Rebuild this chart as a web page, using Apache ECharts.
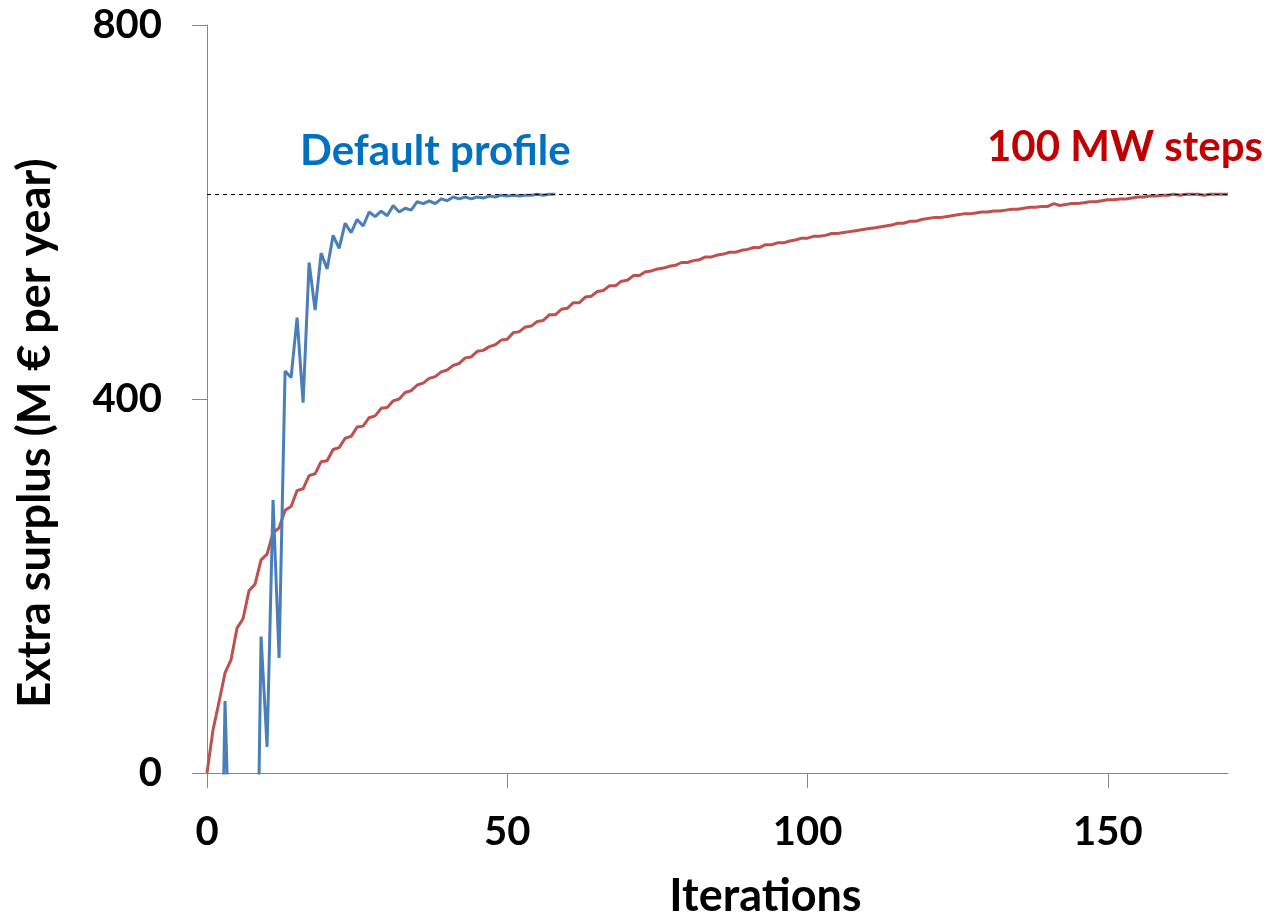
<!DOCTYPE html>
<html>
<head>
<meta charset="utf-8">
<script src="https://cdn.jsdelivr.net/npm/echarts@6/dist/echarts.min.js"></script>
<style>
html,body{margin:0;padding:0;background:#fff;}
#chart{width:1272px;height:924px;}
</style>
</head>
<body>
<div id="chart"></div>
<script>
// Default profile (blue), iterations 0..58 (negative values fall below the axis and are clipped)
const defaultProfile = [-300, -300, -300, 77, -150, -300, -300, -300, -300, 146,
  28, 292, 123, 430, 423, 487, 396, 546, 495, 556,
  539, 575, 561, 588, 578, 592, 585, 600, 595, 601,
  596, 607, 600, 604, 602, 611, 609, 612, 609, 614,
  612, 616, 614, 616, 614, 616, 615, 617, 616, 618,
  617, 618, 617, 618, 618, 619, 618, 619, 619];

// 100 MW steps (red), iterations 0..170
const mwSteps = [0, 46, 76, 107, 121, 155, 165, 195, 202, 228,
  234, 257, 262, 281, 285, 302, 304, 318, 320, 333,
  334, 346, 348, 358, 360, 370, 371, 380, 382, 390,
  391, 398, 400, 407, 409, 415, 417, 422, 424, 429,
  431, 436, 438, 444, 445, 451, 452, 456, 458, 463,
  464, 471, 472, 477, 478, 483, 484, 490, 490, 496,
  497, 503, 503, 509, 510, 515, 516, 521, 521, 526,
  527, 532, 532, 536, 537, 539, 540, 542, 543, 546,
  546, 548, 549, 552, 552, 554, 555, 557, 557, 559,
  560, 562, 562, 565, 565, 567, 567, 569, 570, 572,
  572, 574, 574, 575, 577, 577, 578, 579, 580, 581,
  582, 583, 584, 585, 586, 588, 588, 590, 590, 592,
  593, 594, 594, 595, 596, 597, 598, 598, 599, 600,
  600, 601, 601, 602, 603, 603, 604, 605, 605, 606,
  606, 609, 607, 608, 609, 609, 610, 611, 611, 612,
  613, 613, 614, 614, 615, 616, 616, 617, 617, 618,
  618, 619, 618, 619, 619, 619, 618, 619, 619, 619, 619];

const optimum = 619;
const xTicks = [0, 50, 100, 150];
const yTicks = [0, 400, 800];

const FONT = 'Lato';
const chart = echarts.init(document.getElementById('chart'));
chart.setOption({
  animation: false,
  backgroundColor: '#ffffff',
  grid: {left: 207, right: 44, top: 25, bottom: 139, containLabel: false},
  xAxis: {
    type: 'value', min: 0, max: 170, interval: 50,
    name: 'Iterations', nameLocation: 'middle', nameGap: 101,
    nameTextStyle: {fontFamily: FONT, fontWeight: 'bold', fontSize: 45, color: '#000', padding: [0, 0, 0, 96]},
    axisLine: {show: true, lineStyle: {color: '#868686', width: 1}},
    axisTick: {show: true, length: 15, inside: false, customValues: xTicks, lineStyle: {color: '#868686'}},
    axisLabel: {customValues: xTicks, margin: 39, fontFamily: FONT, fontWeight: 'bold', fontSize: 40, color: '#000'},
    splitLine: {show: false}
  },
  yAxis: {
    type: 'value', min: 0, max: 800, interval: 400,
    name: 'Extra surplus (M € per year)', nameLocation: 'middle', nameGap: 149, nameRotate: 90,
    nameTextStyle: {fontFamily: FONT, fontWeight: 'bold', fontSize: 45, color: '#000', padding: [0, 68, 0, 0]},
    axisLine: {show: true, lineStyle: {color: '#868686', width: 1}},
    axisTick: {show: true, length: 15, inside: false, customValues: yTicks, lineStyle: {color: '#868686'}},
    axisLabel: {customValues: yTicks, margin: 45, fontFamily: FONT, fontWeight: 'bold', fontSize: 40, color: '#000'},
    splitLine: {show: false}
  },
  series: [
    {
      name: '100 MW steps', type: 'line', clip: true, symbol: 'none',
      data: mwSteps.map((v, i) => [i, v]),
      lineStyle: {color: '#C0504D', width: 3},
      markLine: {
        silent: true, symbol: 'none', label: {show: false},
        lineStyle: {color: '#000', type: [4, 4], width: 1},
        data: [{yAxis: optimum}]
      },
      z: 2
    },
    {
      name: 'Default profile', type: 'line', clip: true, symbol: 'none',
      data: defaultProfile.map((v, i) => [i, v]),
      lineStyle: {color: '#4A7EBB', width: 3},
      z: 3
    }
  ],
  graphic: [
    {type: 'text', left: 300, top: 130, style: {text: 'Default profile', fontFamily: FONT, fontWeight: 'bold', fontSize: 42, fill: '#0070C0'}},
    {type: 'text', left: 987, top: 126, style: {text: '100 MW steps', fontFamily: FONT, fontWeight: 'bold', fontSize: 42, fill: '#C00000'}}
  ]
});
</script>
</body>
</html>
